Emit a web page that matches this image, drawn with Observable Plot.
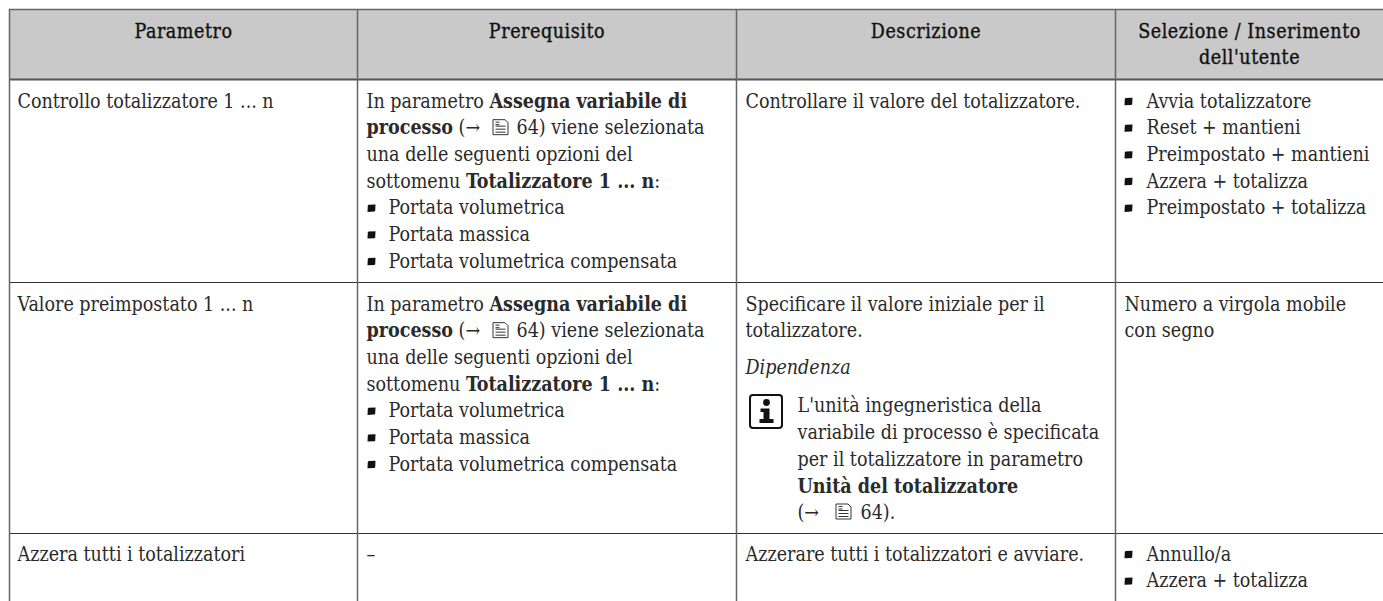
<!DOCTYPE html>
<html><head><meta charset="utf-8">
<style>html,body{margin:0;padding:0;background:#fff}svg{display:block}</style>
<script src="https://cdn.jsdelivr.net/npm/d3@7"></script>
<script src="https://cdn.jsdelivr.net/npm/@observablehq/plot@0.6"></script>
</head><body><div id="chart"></div>
<script>
const headers = ["Parametro","Prerequisito","Descrizione","Selezione / Inserimento","dell'utente"];
const paramCol = ["Controllo totalizzatore 1 ... n","Valore preimpostato 1 ... n","Azzera tutti i totalizzatori"];
const prereqIntro = [
  "In parametro **Assegna variabile di**",
  "**processo** (→",
  "una delle seguenti opzioni del",
  "sottomenu **Totalizzatore 1 ... n**:"
];
const prereqAfterIcon = "64) viene selezionata";
const prereqBullets = ["Portata volumetrica","Portata massica","Portata volumetrica compensata"];
const prereqNone = "–";
const descRow1 = ["Controllare il valore del totalizzatore."];
const descRow2 = ["Specificare il valore iniziale per il","totalizzatore.","__Dipendenza__"];
const noteLines = ["L'unità ingegneristica della","variabile di processo è specificata","per il totalizzatore in parametro","**Unità del totalizzatore**","(→"];
const noteAfterIcon = "64).";
const descRow3 = ["Azzerare tutti i totalizzatori e avviare."];
const optRow1 = ["Avvia totalizzatore","Reset + mantieni","Preimpostato + mantieni","Azzera + totalizza","Preimpostato + totalizza"];
const optRow2 = ["Numero a virgola mobile","con segno"];
const optRow3 = ["Annullo/a","Azzera + totalizza"];

// layout
const colEdge = [9,357,736,1115,1383];
const rowEdge = [9,79,282,533,601];
const firstBase = [107,310,560];
const pitch = 26.67;
const textX = [17,366,745,1124];
const bulletText = [388,1146], bulletX = [371,1128];
const noteLineOffset = [101,128,155,182,208];
const fontFam = "'DejaVu Serif Condensed','DejaVu Serif',serif";
const ink = "#2a2a2a";

const texts = [], heads = [];
const add = (t,x,y) => texts.push({t,x,y});
const mid = i => (colEdge[i]+colEdge[i+1])/2;
heads.push({t:headers[0],x:mid(0),y:37},{t:headers[1],x:mid(1),y:37},{t:headers[2],x:mid(2),y:37},{t:headers[3],x:mid(3),y:37},{t:headers[4],x:mid(3),y:63});
paramCol.forEach((t,r)=>add(t,textX[0],firstBase[r]));
const bullets = [];
[0,1].forEach(r=>{
  prereqIntro.forEach((t,i)=>add(t,textX[1],firstBase[r]+i*pitch));
  add(prereqAfterIcon,516,firstBase[r]+pitch);
  prereqBullets.forEach((t,i)=>{add(t,bulletText[0],firstBase[r]+(4+i)*pitch);bullets.push({x:bulletX[0],y:firstBase[r]+(4+i)*pitch-6});});
});
add(prereqNone,textX[1],firstBase[2]);
add(descRow1[0],textX[2],firstBase[0]);
descRow2.forEach((t,i)=>add(t,textX[2],firstBase[1]+[0,pitch,63][i]));
noteLines.forEach((t,i)=>add(t,797,firstBase[1]+noteLineOffset[i]));
add(noteAfterIcon,860,firstBase[1]+noteLineOffset[4]);
add(descRow3[0],textX[2],firstBase[2]);
optRow1.forEach((t,i)=>{add(t,bulletText[1],firstBase[0]+i*pitch);bullets.push({x:bulletX[1],y:firstBase[0]+i*pitch-6});});
optRow2.forEach((t,i)=>add(t,textX[3],firstBase[1]+i*pitch));
optRow3.forEach((t,i)=>{add(t,bulletText[1],firstBase[2]+i*pitch);bullets.push({x:bulletX[1],y:firstBase[2]+i*pitch-6});});

const bulletSym = {draw(c,s){const w=4,h=3.4,r=1;
  c.moveTo(-w+r,-h);c.lineTo(w,-h-.3);c.lineTo(w-.3,h-r);c.lineTo(w-r,h);c.lineTo(-w,h+.3);c.lineTo(-w+.3,-h+r);c.closePath();}};
const docSym = {draw(c,s){const w=7.5,h=7.5;
  c.moveTo(-w,-h);c.lineTo(w-3,-h);c.lineTo(w,-h+3);c.lineTo(w,h);c.lineTo(-w,h);c.closePath();
  [-1,2,5].forEach(y=>{c.moveTo(-w+2.5,y);c.lineTo(w-2.5,y);});
  c.moveTo(-w+2.5,-h+2.5);c.lineTo(-1,-h+2.5);c.moveTo(-w+2.5,-h+5);c.lineTo(-1,-h+5);}};
const infoSym = {draw(c,s){
  c.moveTo(3.4,-9.5);c.arc(0,-9.5,3.4,0,2*Math.PI);
  c.moveTo(-6,-3.5);c.lineTo(3,-3.5);c.lineTo(3,7);c.lineTo(7,7);c.lineTo(7,11);c.lineTo(-7,11);c.lineTo(-7,7);c.lineTo(-3,7);c.lineTo(-3,0);c.lineTo(-6,0);c.closePath();}};
const docIcons = [{x:843,y:firstBase[1]+noteLineOffset[4]-7},{x:500,y:firstBase[0]+pitch-7},{x:500,y:firstBase[1]+pitch-7}];

const svg = Plot.plot({
  width:1383,height:601,margin:0,
  x:{domain:[0,1383],range:[0,1383],axis:null},
  y:{domain:[0,601],range:[0,601],axis:null},
  style:{fontFamily:fontFam,background:"#fff"},
  marks:[
    Plot.rect([{}],{x1:colEdge[0],x2:colEdge[4],y1:rowEdge[0],y2:rowEdge[1],fill:"#c9c9c9"}),
    Plot.ruleY([rowEdge[0]],{x1:colEdge[0],x2:colEdge[4],stroke:"#666",strokeWidth:1.5}),
    Plot.ruleY([rowEdge[1]],{x1:colEdge[0],x2:colEdge[4],stroke:"#555",strokeWidth:2}),
    Plot.ruleY(rowEdge.slice(2,4),{x1:colEdge[0],x2:colEdge[4],stroke:"#333",strokeWidth:1}),
    Plot.ruleX(colEdge.slice(0,4),{y1:rowEdge[0],y2:rowEdge[4],stroke:"#666",strokeWidth:1.5}),
    Plot.text(texts,{x:"x",y:"y",text:"t",textAnchor:"start",lineAnchor:"bottom",fontSize:19.5,fill:ink}),
    Plot.text(heads,{x:"x",y:"y",text:"t",textAnchor:"middle",lineAnchor:"bottom",fontSize:19.5,fill:"#111",stroke:"#111",strokeWidth:0.35,
      render(i,s,v,d,c,next){const g=next(i,s,v,d,c);g.style.letterSpacing="0.55px";return g;}}),
    Plot.dot(bullets,{x:"x",y:"y",symbol:bulletSym,r:4,fill:"#111",stroke:"none"}),
    Plot.dot(docIcons,{x:"x",y:"y",symbol:docSym,r:8,fill:"#fff",stroke:"#333",strokeWidth:1}),
    Plot.rect([{}],{x1:750,x2:782,y1:395,y2:428,rx:3,fill:"#fff",stroke:"#111",strokeWidth:2}),
    Plot.dot([{x:766,y:411.5}],{x:"x",y:"y",symbol:infoSym,r:8,fill:"#111",stroke:"none"})
  ]
});
svg.querySelectorAll("text").forEach(el=>{
  const s=el.textContent;
  if(!/\*\*|__/.test(s))return;
  el.textContent="";
  s.split(/(\*\*.*?\*\*|__.*?__)/).filter(Boolean).forEach(p=>{
    const ts=document.createElementNS("http://www.w3.org/2000/svg","tspan");
    if(p.startsWith("**")){ts.textContent=p.slice(2,-2);ts.setAttribute("font-weight","bold");}
    else if(p.startsWith("__")){ts.textContent=p.slice(2,-2);ts.setAttribute("font-style","italic");}
    else ts.textContent=p;
    el.appendChild(ts);
  });
});
document.getElementById("chart").appendChild(svg);
</script></body></html>
